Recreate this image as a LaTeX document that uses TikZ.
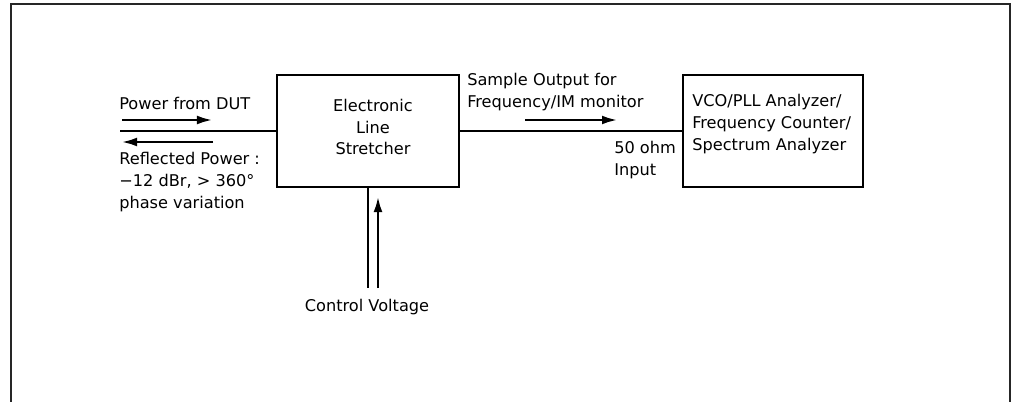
\documentclass[tikz,border=0pt]{standalone}
\usepackage{fontspec}
\setmainfont{DejaVu Sans}
\usetikzlibrary{arrows.meta,positioning}

\begin{document}
\begin{tikzpicture}[x=0.025cm,y=-0.025cm,
        blk/.style={draw,line width=1.5pt,minimum width=4.5cm,minimum height=2.8cm,inner sep=0pt},
        lbl/.style={inner sep=0pt,font=\fontsize{11.5}{15.6}\selectfont,align=left},
        wire/.style={line width=1.4pt},
        sigarrow/.style={line width=2pt,-{Latex[length=4mm,width=2.2mm]}}]
        \useasboundingbox (0,0) rectangle (1015,402);

        % Outer frame (open at the bottom)
        \draw[line width=0.8pt,black!85] (11,402) -- (11,4) -- (1010,4) -- (1010,402);

        % Blocks
        \node[blk,minimum width=4.55cm] (stretch) at (368,131) {};
        \node[lbl,align=center] (stretchtxt) at (373,127) {Electronic\\Line\\Stretcher};
        \node[blk] (analyzer) at (773,131) {};
        \node[lbl,anchor=west] (analyzertxt) at (692,124) {VCO/PLL Analyzer/\\Frequency Counter/\\Spectrum Analyzer};

        % Input side
        \coordinate (dut) at (120,131);
        \draw[wire] (dut) -- (stretch.west);
        \coordinate (fwdA) at (122,120);
        \coordinate (fwdB) at (213,120);
        \coordinate (refA) at (213,142);
        \coordinate (refB) at (121,142);
        \draw[sigarrow] (fwdA) -- (fwdB);
        \draw[sigarrow] (refA) -- (refB);
        \node[lbl,anchor=west] (powertxt) at (119,103) {Power from DUT};
        \node[lbl,anchor=north west] (refltxt) at (119,152) {Reflected Power :\\−12 dBr, > 360°\\phase variation};

        % Output side
        \draw[wire] (stretch.east) -- (analyzer.west);
        \coordinate (outA) at (525,120);
        \coordinate (outB) at (618,120);
        \draw[sigarrow] (outA) -- (outB);
        \node[lbl,anchor=west] (sampletxt) at (467,92) {Sample Output for\\Frequency/IM monitor};
        \node[lbl,anchor=west] (ohmtxt) at (614,160) {50 ohm\\Input};

        % Control voltage
        \coordinate (ctlA) at (368,288);
        \coordinate (ctlB) at (378,288);
        \coordinate (ctlC) at (378,196);
        \draw[wire] (stretch.south) -- (ctlA);
        \draw[sigarrow] (ctlB) -- (ctlC);
        \node[lbl] (ctltxt) at (367,307) {Control Voltage};
\end{tikzpicture}
\end{document}
